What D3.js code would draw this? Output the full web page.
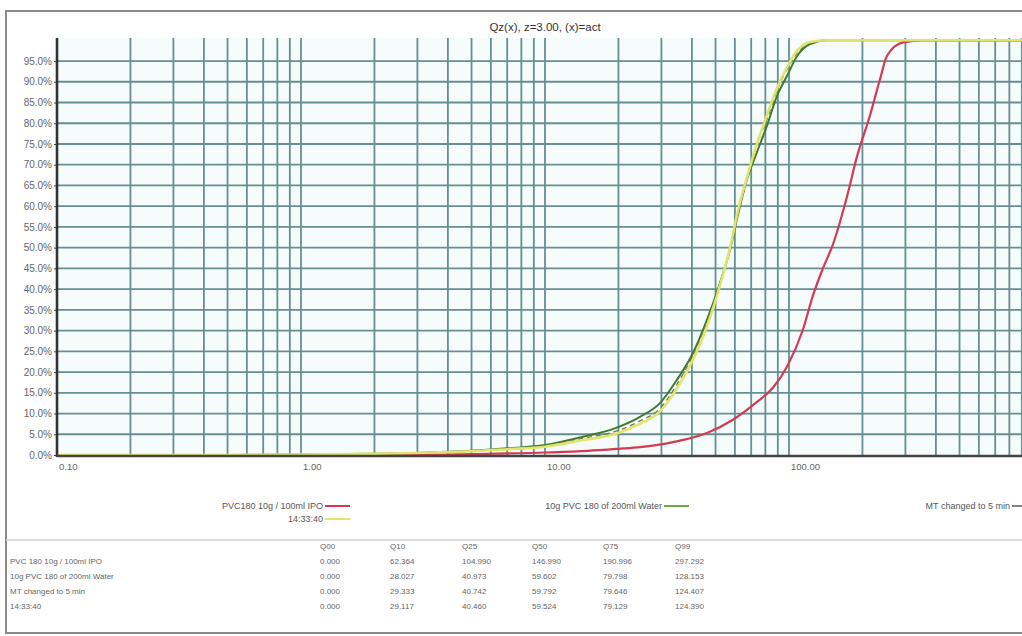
<!DOCTYPE html>
<html>
<head>
<meta charset="utf-8">
<script src="https://cdn.jsdelivr.net/npm/d3@7"></script>
<style>
  body { margin: 0; background: #fff; }
  svg { display: block; font-family: "Liberation Sans", Arial, sans-serif; }
</style>
</head>
<body>
<svg id="chart" width="1022" height="636"></svg>
<script>
// ---- data ----
var titleText = "Qz(x), z=3.00, (x)=act";
var yTicks = [0, 5, 10, 15, 20, 25, 30, 35, 40, 45, 50, 55, 60, 65, 70, 75, 80, 85, 90, 95];
var xLabelTicks = [0.1, 1, 10, 100];

var sizesRed = [0.1, 3, 5, 10, 15, 20, 24.5, 33.5, 46.1, 58.9, 73.9, 85.9, 98.1, 114, 125.4, 137.7, 151.4, 173, 190, 215, 236, 252, 293, 354, 1000];
var qRed     = [0, 0, 0.2, 0.6, 1.0, 1.5, 1.9, 3.1, 5.3, 8.5, 12.8, 16.2, 21.3, 30.2, 38.5, 45, 50.8, 62.4, 72, 82, 90.6, 96.2, 99.5, 100, 100];

var sizesFine = [0.1, 0.5, 1, 2, 3, 5, 7, 10, 14.3, 19.7, 24.5, 29.6, 34.7, 40.4, 46.1, 52.2, 57.3, 61.8, 67.3, 73.9, 81.3, 89.3, 98.1, 108, 122, 143, 1000];
var qGreen  = [0, 0, 0.1, 0.3, 0.5, 1.0, 1.6, 2.4, 4.4, 6.6, 9.2, 12.5, 18.1, 24.6, 32.6, 41.6, 49.5, 58, 66.5, 73, 79.5, 86.6, 91.4, 96.2, 99.1, 100, 100];
var qMT     = [0, 0, 0.1, 0.3, 0.5, 0.95, 1.5, 2.2, 4.0, 5.8, 8.2, 11.2, 17, 24, 32, 41.5, 49.8, 58.5, 67, 75, 81, 88, 93, 97, 99.4, 100, 100];
var qYellow = [0, 0, 0.1, 0.3, 0.5, 0.9, 1.4, 2.0, 3.6, 5.2, 7.5, 10.5, 16, 23, 31, 41, 50, 59, 67, 75, 82, 88.5, 93.5, 97.5, 99.6, 100, 100];

var seriesNames = ["PVC180 10g / 100ml IPO", "10g PVC 180 of 200ml Water", "MT changed to 5 min", "14:33:40"];
var tableNames = ["PVC 180 10g / 100ml IPO", "10g PVC 180 of 200ml Water", "MT changed to 5 min", "14:33:40"];
var tableHeads = ["Q00", "Q10", "Q25", "Q50", "Q75", "Q99"];
var tableRows = [
  ["0.000", "62.364", "104.990", "146.990", "190.996", "297.292"],
  ["0.000", "28.027", "40.973", "59.602", "79.798", "128.153"],
  ["0.000", "29.333", "40.742", "59.792", "79.646", "124.407"],
  ["0.000", "29.117", "40.460", "59.524", "79.129", "124.390"]
];

// ---- layout ----
var svg = d3.select("#chart");
var plotLeft = 57, plotTop = 38, plotBottom = 455, plotRight = 1022;

var x = d3.scaleLog().domain([0.1, 1000]).range([plotLeft, 1033]);
var y = d3.scaleLinear().domain([0, 100]).range([plotBottom, 40.3]);

// outer frame
svg.append("rect").attr("x", 6).attr("y", 11).attr("width", 1040).attr("height", 622)
  .attr("fill", "#fff").attr("stroke", "#8a8a8a").attr("stroke-width", 2);

// plot background
svg.append("rect").attr("x", plotLeft).attr("y", plotTop)
  .attr("width", plotRight - plotLeft).attr("height", plotBottom - plotTop)
  .attr("fill", "#f6fcfc");

// grid
var gridColor = "#658f92";
svg.append("g").selectAll("line")
  .data(x.ticks().filter(function(d) { return x(d) < plotRight && d > 0.1; }))
  .enter().append("line")
  .attr("x1", function(d) { return x(d); }).attr("x2", function(d) { return x(d); })
  .attr("y1", plotTop).attr("y2", plotBottom)
  .attr("stroke", gridColor).attr("stroke-width", 1.8);

svg.append("g").selectAll("line")
  .data(yTicks.filter(function(d) { return d > 0; }))
  .enter().append("line")
  .attr("x1", plotLeft).attr("x2", plotRight)
  .attr("y1", function(d) { return y(d); }).attr("y2", function(d) { return y(d); })
  .attr("stroke", gridColor).attr("stroke-width", 1.8);

// y axis
var yAxis = svg.append("g").attr("transform", "translate(" + plotLeft + ",0)")
  .call(d3.axisLeft(y).tickValues(yTicks).tickSize(3).tickPadding(2)
    .tickFormat(function(d) { return d.toFixed(1) + "%"; }));
yAxis.select(".domain").remove();
yAxis.selectAll("text").attr("fill", "#666").style("font-size", "10px");
yAxis.selectAll("line").attr("stroke", "#444");

// x labels
svg.append("g").selectAll("text")
  .data(xLabelTicks).enter().append("text")
  .attr("x", function(d) { return x(d) + 2; }).attr("y", 470)
  .attr("fill", "#666").style("font-size", "9.5px")
  .text(function(d) { return d.toFixed(2); });

// curves
var line = d3.line()
  .x(function(d) { return x(d[0]); })
  .y(function(d) { return y(d[1]); })
  .curve(d3.curveMonotoneX);

var plot = svg.append("g");
function drawSeries(sizes, q, color, width, dash) {
  plot.append("path")
    .datum(d3.zip(sizes, q))
    .attr("d", line)
    .attr("fill", "none")
    .attr("stroke", color)
    .attr("stroke-width", width)
    .attr("stroke-dasharray", dash || null)
    .attr("stroke-linejoin", "round");
}
drawSeries(sizesRed, qRed, "#d43a52", 2.2);
drawSeries(sizesFine, qGreen, "#3f7a30", 2);
drawSeries(sizesFine, qMT, "#7c7458", 1.4, "5,4");
drawSeries(sizesFine, qYellow, "#e2e46a", 2.6);

// axes lines
svg.append("line").attr("x1", plotLeft).attr("x2", plotLeft).attr("y1", plotTop).attr("y2", plotBottom + 2)
  .attr("stroke", "#333").attr("stroke-width", 2.6);
svg.append("line").attr("x1", plotLeft).attr("x2", plotRight).attr("y1", plotBottom + 1).attr("y2", plotBottom + 1)
  .attr("stroke", "#444").attr("stroke-width", 2.6);

// title
svg.append("text").attr("x", 545).attr("y", 31).attr("text-anchor", "middle")
  .attr("fill", "#333").style("font-size", "11.5px").text(titleText);

// legend
var legendItems = [
  { name: seriesNames[0], color: "#d43a52", tx: 323, ty: 509 },
  { name: seriesNames[3], color: "#e4e66c", tx: 323, ty: 522 },
  { name: seriesNames[1], color: "#6aaa40", tx: 662, ty: 509 },
  { name: seriesNames[2], color: "#8a7c90", tx: 1010, ty: 509 }
];
var leg = svg.append("g").selectAll("g").data(legendItems).enter().append("g");
leg.append("text").attr("x", function(d) { return d.tx; }).attr("y", function(d) { return d.ty; })
  .attr("text-anchor", "end").attr("fill", "#555").style("font-size", "9px")
  .text(function(d) { return d.name; });
leg.append("line").attr("x1", function(d) { return d.tx + 2; }).attr("x2", function(d) { return d.tx + 27; })
  .attr("y1", function(d) { return d.ty - 3; }).attr("y2", function(d) { return d.ty - 3; })
  .attr("stroke", function(d) { return d.color; }).attr("stroke-width", 2);

// separator
svg.append("line").attr("x1", 6).attr("x2", 1022).attr("y1", 540).attr("y2", 540)
  .attr("stroke", "#d0d0d0").attr("stroke-width", 1.5);

// table
var colX = [320, 390, 462, 532, 603, 675];
var tbl = svg.append("g").style("font-size", "8px").attr("fill", "#666");
tbl.selectAll(".head").data(tableHeads).enter().append("text")
  .attr("x", function(d, i) { return colX[i]; }).attr("y", 549).text(function(d) { return d; });
tableRows.forEach(function(row, r) {
  var ry = 564 + r * 15;
  tbl.append("text").attr("x", 10).attr("y", ry).text(tableNames[r]);
  tbl.selectAll(".r" + r).data(row).enter().append("text")
    .attr("x", function(d, i) { return colX[i]; }).attr("y", ry).text(function(d) { return d; });
});
</script>
</body>
</html>
